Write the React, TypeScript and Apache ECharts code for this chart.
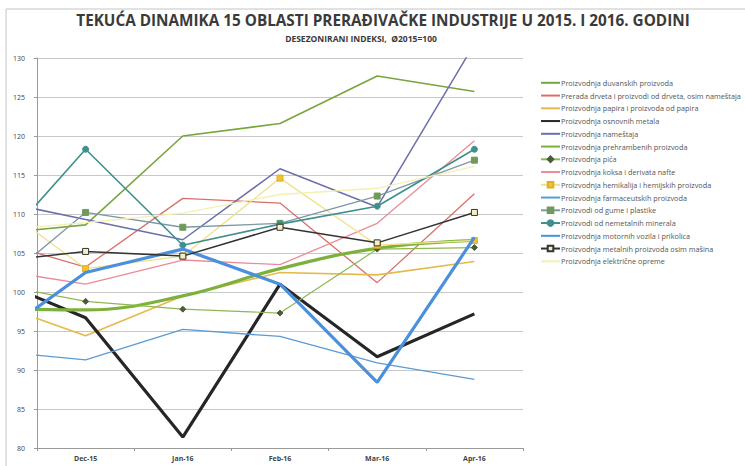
import React, { useEffect, useRef } from "react";
import * as echarts from "echarts";

const categories = ["Nov-15", "Dec-15", "Jan-16", "Feb-16", "Mar-16", "Apr-16"];

const duvanski = [107.4, 108.6, 120.0, 121.6, 127.7, 125.7];
const preradaDrveta = [106.8, 103.2, 112.0, 111.4, 101.2, 112.6];
const papir = [98.8, 94.4, 99.5, 102.5, 102.2, 103.9];
const osnovniMetali = [101.9, 96.7, 81.4, 101.0, 91.7, 97.2];
const namestaj = [111.9, 109.3, 106.7, 115.8, 110.9, 131.8];
const prehrambeni = [97.9, 97.7, 99.5, 103.0, 105.6, 106.6];
const pice = [101.2, 98.8, 97.8, 97.3, 105.5, 105.7];
const koks = [103.0, 101.0, 104.1, 103.5, 108.8, 119.4];
const hemikalije = [112.2, 103.0, 104.6, 114.6, 106.0, 106.6];
const farmacija = [92.5, 91.3, 95.2, 94.3, 90.9, 88.8];
const gumaPlastika = [99.8, 110.2, 108.3, 108.8, 112.3, 116.9];
const nemetali = [104.3, 118.3, 106.0, 108.7, 111.0, 118.3];
const motornaVozila = [93.5, 102.5, 105.5, 101.0, 88.4, 107.0];
const metalniProizvodi = [103.8, 105.2, 104.6, 108.3, 106.3, 110.2];
const elektricnaOprema = [107.8, 108.9, 110.1, 112.5, 113.3, 116.1];

const names = [
  "Proizvodnja duvanskih proizvoda",
  "Prerada drveta i proizvodi od drveta, osim nameštaja",
  "Proizvodnja papira i proizvoda od papira",
  "Proizvodnja osnovnih metala",
  "Proizvodnja nameštaja",
  "Proizvodnja prehrambenih proizvoda",
  "Proizvodnja pića",
  "Proizvodnja koksa i derivata nafte",
  "Proizvodnja hemikalija i hemijskih proizvoda",
  "Proizvodnja farmaceutskih proizvoda",
  "Proizvodi od gume i plastike",
  "Proizvodi od nemetalnih minerala",
  "Proizvodnja motornih vozila i prikolica",
  "Proizvodnja metalnih proizvoda osim mašina",
  "Proizvodnja električne opreme",
];

const values = [
  duvanski, preradaDrveta, papir, osnovniMetali, namestaj, prehrambeni, pice, koks,
  hemikalije, farmacija, gumaPlastika, nemetali, motornaVozila, metalniProizvodi, elektricnaOprema,
];

type Sty = {
  color: string;
  width: number;
  symbol?: string;
  symbolSize?: number;
  markerFill?: string;
  markerBorder?: string;
  smooth?: boolean;
};

const styles: Sty[] = [
  { color: "#78a53e", width: 1.6 },
  { color: "#d8706a", width: 1.3 },
  { color: "#e6b94c", width: 1.6 },
  { color: "#262626", width: 3.2 },
  { color: "#6b6fae", width: 1.5 },
  { color: "#7cb23c", width: 3.2, smooth: true },
  { color: "#8fb752", width: 1.2, symbol: "diamond", symbolSize: 6, markerFill: "#4d5a3c", markerBorder: "#4d5a3c" },
  { color: "#e98b98", width: 1.3 },
  { color: "#f1e08c", width: 1.3, symbol: "rect", symbolSize: 6, markerFill: "#f1c232", markerBorder: "#e0b020" },
  { color: "#5b9bd5", width: 1.3 },
  { color: "#7d97a6", width: 1.3, symbol: "rect", symbolSize: 6, markerFill: "#6f9a5a", markerBorder: "#6f9a5a" },
  { color: "#3f8f8c", width: 1.6, symbol: "circle", symbolSize: 6, markerFill: "#3f8f8c", markerBorder: "#3f8f8c" },
  { color: "#4a90dc", width: 3.2 },
  { color: "#333333", width: 1.5, symbol: "rect", symbolSize: 6, markerFill: "#f4f0c4", markerBorder: "#333333" },
  { color: "#f4f0b0", width: 1.3 },
];

export default function App() {
  const ref = useRef<HTMLDivElement>(null);
  useEffect(() => {
    if (!ref.current) return;
    const chart = echarts.init(ref.current, undefined, { renderer: "svg" });
    const series = values.map((vals, i) => {
      const s = styles[i];
      return {
        name: names[i],
        type: "line",
        xAxisIndex: 1,
        yAxisIndex: 0,
        clip: true,
        smooth: s.smooth ? 0.4 : false,
        data: vals.map((v, j) => [j, v]),
        symbol: s.symbol || "none",
        symbolSize: s.symbolSize || 0,
        showSymbol: !!s.symbol,
        lineStyle: { color: s.color, width: s.width },
        itemStyle: {
          color: s.markerFill || s.color,
          borderColor: s.markerBorder || s.color,
          borderWidth: 1,
        },
        z: 2 + i,
      };
    });
    const legendData = names.map((n, i) =>
      styles[i].symbol
        ? { name: n }
        : { name: n, itemStyle: { opacity: 0 } }
    );
    chart.setOption({
      animation: false,
      backgroundColor: "#ffffff",
      grid: { left: 37, right: 222, top: 58, bottom: 18, containLabel: false },
      graphic: [
        {
          type: "rect",
          shape: { x: 6, y: 9, width: 800, height: 500 },
          style: { fill: "none", stroke: "#c4c4c4", lineWidth: 1 },
          silent: true,
        },
        {
          type: "text",
          x: 383,
          y: 20,
          style: {
            text: "TEKUĆA DINAMIKA 15 OBLASTI PRERAĐIVAČKE INDUSTRIJE U 2015. I 2016. GODINI",
            fill: "#3a3a3a",
            font: "bold 15.3px 'Open Sans'",
            textAlign: "center",
            textVerticalAlign: "middle",
          },
        },
        {
          type: "text",
          x: 361,
          y: 38,
          style: {
            text: "DESEZONIRANI INDEKSI,  Ø2015=100",
            fill: "#3a3a3a",
            font: "bold 8.5px 'Open Sans'",
            textAlign: "center",
            textVerticalAlign: "middle",
          },
        },
      ],
      legend: {
        orient: "vertical",
        left: 535,
        top: 74,
        itemWidth: 19,
        itemHeight: 7,
        itemGap: 5.15,
        textStyle: { fontSize: 7.3, color: "#555", fontFamily: "'Open Sans'", padding: [0, 0, 0, -4] },
        data: legendData,
      },
      xAxis: [
        {
          type: "category",
          data: categories.slice(1),
          boundaryGap: true,
          axisLine: { lineStyle: { color: "#9a9a9a" } },
          axisTick: { show: true, length: 3, lineStyle: { color: "#9a9a9a" } },
          axisLabel: { fontSize: 7, color: "#444", fontWeight: "bold", margin: 7, fontFamily: "'Open Sans'" },
          splitLine: { show: false },
        },
        {
          type: "value",
          min: 0.5,
          max: 5.5,
          show: false,
          splitLine: { show: false },
        },
      ],
      yAxis: {
        type: "value",
        min: 80,
        max: 130,
        interval: 5,
        axisLine: { show: true, lineStyle: { color: "#9a9a9a" } },
        axisTick: { show: true, length: 3, lineStyle: { color: "#9a9a9a" } },
        axisLabel: { fontSize: 7, color: "#444", margin: 12, fontFamily: "'Open Sans'" },
        splitLine: { lineStyle: { color: "#c8c8c8", width: 1 } },
      },
      series,
    });
    return () => chart.dispose();
  }, []);
  return (
    <div
      ref={ref}
      style={{ position: "fixed", left: 0, top: 0, width: 745, height: 466, background: "#fff" }}
    />
  );
}
